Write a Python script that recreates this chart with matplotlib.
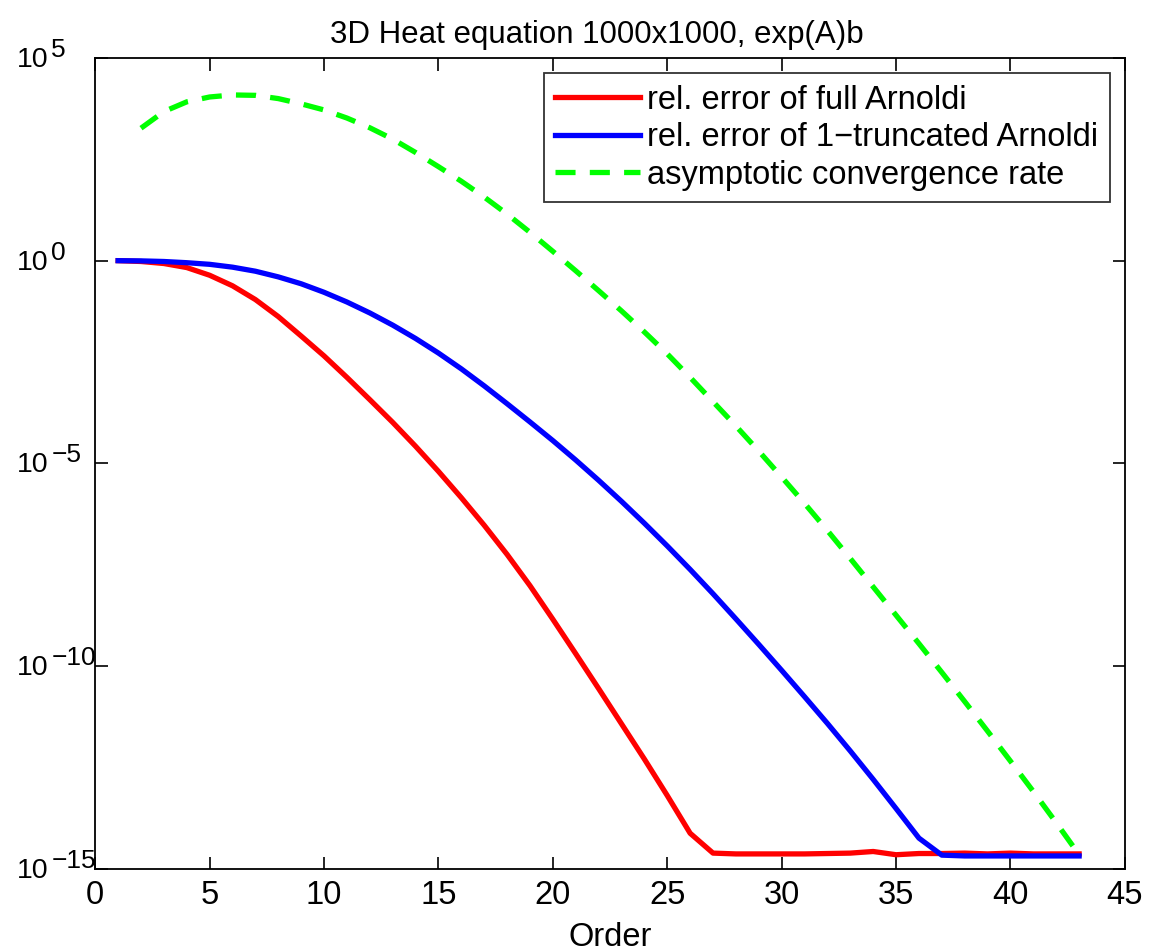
import numpy as np
import matplotlib
matplotlib.use('Agg')
import matplotlib.pyplot as plt

plt.rcParams['font.family'] = ['Liberation Sans', 'DejaVu Sans']

# log10 of the errors
order_full = list(range(1, 44))
log_full = [0.0, -0.02, -0.07, -0.17, -0.36, -0.62, -0.96, -1.38, -1.86, -2.35,
            -2.88, -3.43, -3.99, -4.58, -5.2, -5.85, -6.53, -7.25, -8.02, -8.85,
            -9.7, -10.56, -11.43, -12.3, -13.2, -14.13, -14.62, -14.64, -14.64, -14.64,
            -14.64, -14.63, -14.62, -14.58, -14.66, -14.63, -14.63, -14.62, -14.64, -14.62,
            -14.64, -14.64, -14.64]

order_trunc = list(range(1, 44))
log_trunc = [0.0, -0.005, -0.02, -0.05, -0.09, -0.16, -0.26, -0.4, -0.57, -0.78,
             -1.02, -1.29, -1.59, -1.92, -2.28, -2.67, -3.09, -3.53, -3.98, -4.44,
             -4.92, -5.42, -5.94, -6.48, -7.04, -7.62, -8.22, -8.84, -9.47, -10.11,
             -10.76, -11.42, -12.1, -12.8, -13.52, -14.25, -14.67, -14.69, -14.69, -14.69,
             -14.69, -14.69, -14.69]

order_rate = list(range(2, 44))
log_rate = [3.27, 3.68, 3.92, 4.04, 4.09, 4.08, 4.0, 3.87, 3.72,
            3.52, 3.28, 3.0, 2.67, 2.32, 1.96, 1.57, 1.15, 0.7, 0.23,
            -0.25, -0.74, -1.24, -1.76, -2.3, -2.88, -3.48, -4.08, -4.7, -5.34,
            -5.99, -6.66, -7.35, -8.05, -8.75, -9.45, -10.16, -10.88, -11.61, -12.35,
            -13.1, -13.87, -14.66]

y_exps = [5, 0, -5, -10, -15]

fig = plt.figure(figsize=(11.49, 9.52), dpi=100)
ax = fig.add_axes([0.0829, 0.0877, 0.8961, 0.8513])

ax.semilogy(order_full, 10.0 ** np.array(log_full), color=(1, 0, 0), lw=3.8,
            label='rel. error of full Arnoldi')
ax.semilogy(order_trunc, 10.0 ** np.array(log_trunc), color=(0, 0, 1), lw=3.8,
            label='rel. error of 1\u2212truncated Arnoldi')
line, = ax.semilogy(order_rate, 10.0 ** np.array(log_rate), color=(0, 1, 0), lw=3.8,
                    label='asymptotic convergence rate')
line.set_dashes([3.8, 2.7])

ax.set_xlim(0, 45)
ax.set_ylim(1e-15, 1e5)
ax.set_xticks(range(0, 46, 5))
ax.set_yticks([10.0 ** e for e in y_exps])
ax.set_yticklabels([])
ax.yaxis.set_minor_locator(matplotlib.ticker.NullLocator())
ax.tick_params(which='both', direction='in', top=True, right=True,
               length=9, width=1.2)
ax.tick_params(axis='x', labelsize=23.5, pad=8)
for s in ax.spines.values():
    s.set_linewidth(1.3)

# MATLAB style 10^n labels: exponent almost as big as the base
for e in y_exps:
    ax.annotate('10', xy=(0, 10.0 ** e), xycoords=('axes fraction', 'data'),
                xytext=(-78, -2), textcoords='offset pixels', ha='left', va='center',
                fontsize=20.5, annotation_clip=False)
    ax.annotate(str(e).replace('-', '\u2212'), xy=(0, 10.0 ** e),
                xycoords=('axes fraction', 'data'), xytext=(-44, 8),
                textcoords='offset pixels', ha='left', va='center',
                fontsize=19, annotation_clip=False)

ax.set_xlabel('Order', fontsize=23.5, labelpad=8)
ax.set_title('3D Heat equation 1000x1000, exp(A)b', fontsize=22.5, pad=11, x=0.487)

leg = ax.legend(loc='upper right', fontsize=23.5, frameon=True, fancybox=False,
                edgecolor='black', handlelength=2.6, borderaxespad=0.46,
                labelspacing=0.2, handletextpad=0.22, borderpad=0.35)
leg.get_frame().set_linewidth(1.3)

fig.savefig('out.png', dpi=100)
